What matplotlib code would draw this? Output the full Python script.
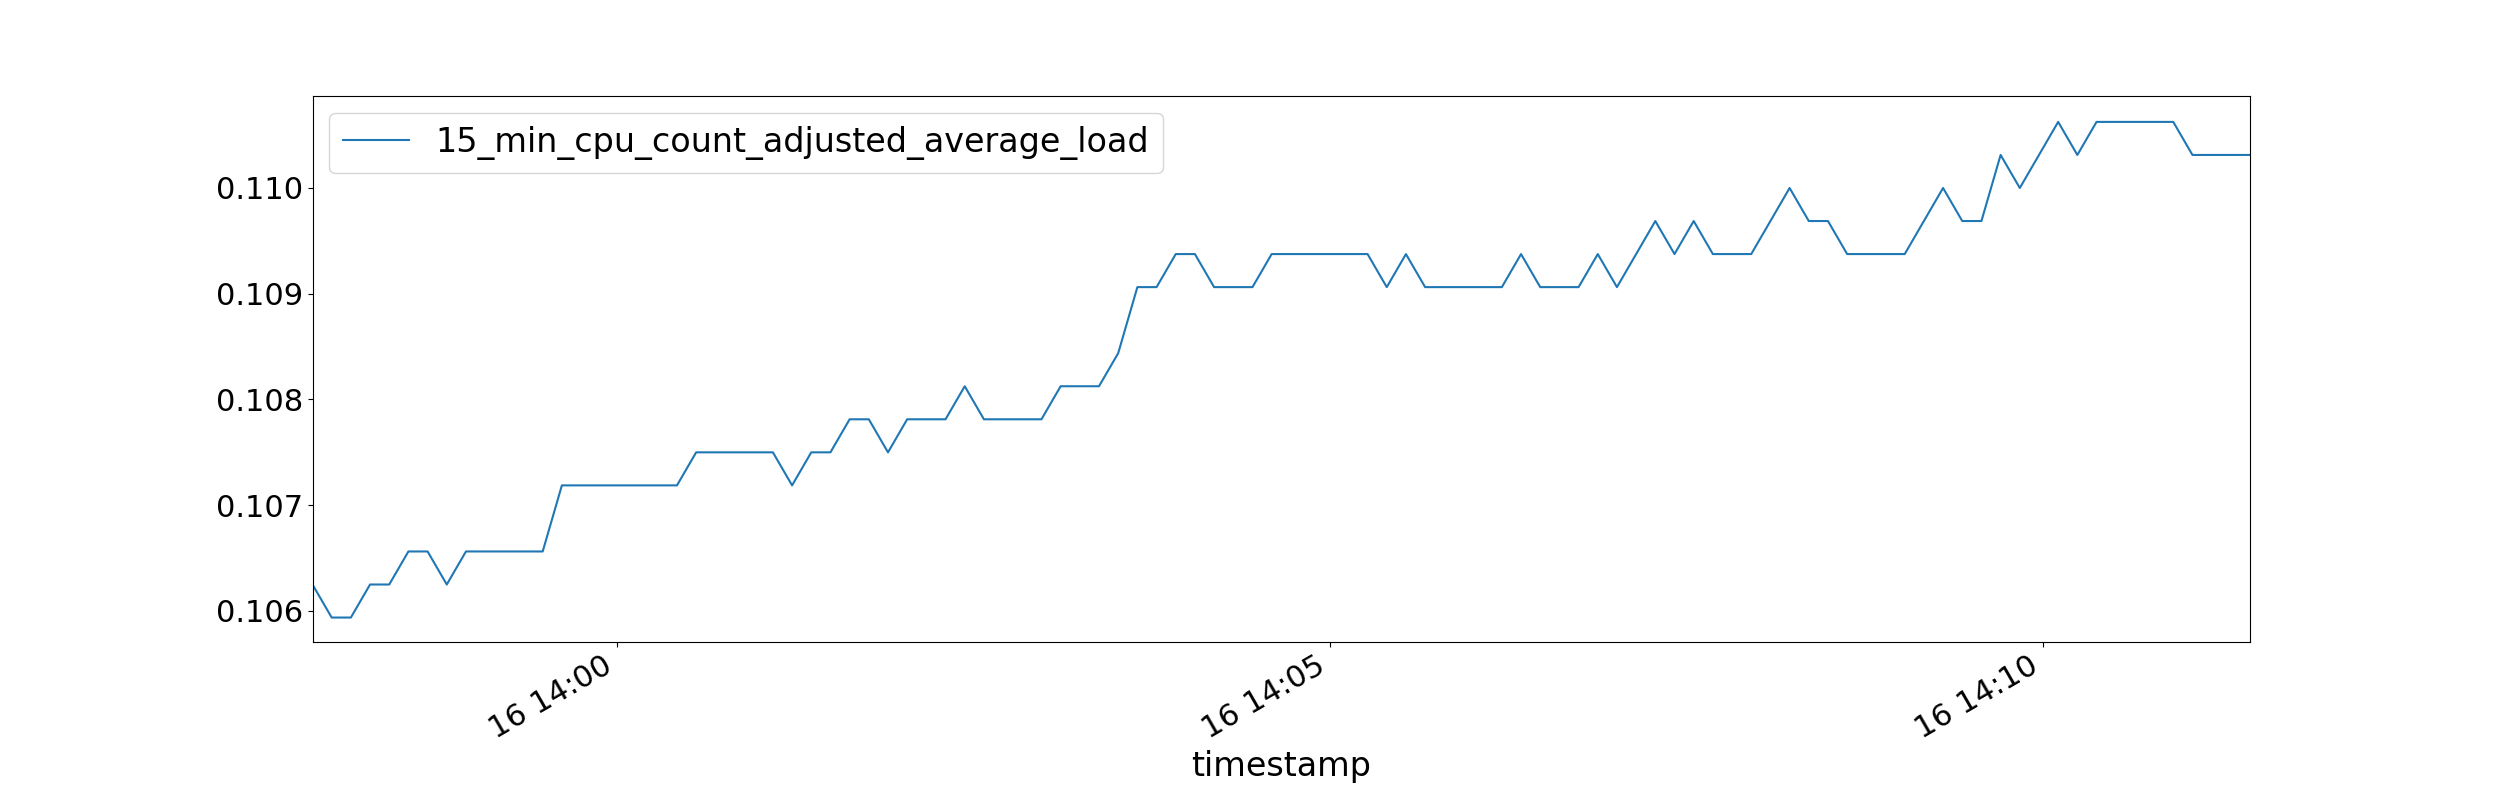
import matplotlib
matplotlib.use("Agg")
import matplotlib.pyplot as plt
import matplotlib.dates as mdates
import numpy as np
import pandas as pd

# raw load readings (load average sum), later divided by cpu count
cpu_count = 32
load_raw = [340, 339, 339, 340, 340, 341, 341, 340, 341, 341, 341, 341, 341,
            343, 343, 343, 343, 343, 343, 343, 344, 344, 344, 344, 344, 343,
            344, 344, 345, 345, 344, 345, 345, 345, 346, 345, 345, 345, 345,
            346, 346, 346, 347, 349, 349, 350, 350, 349, 349, 349, 350, 350,
            350, 350, 350, 350, 349, 350, 349, 349, 349, 349, 349, 350, 349,
            349, 349, 350, 349, 350, 351, 350, 351, 350, 350, 350, 351, 352,
            351, 351, 350, 350, 350, 350, 351, 352, 351, 351, 353, 352, 353,
            354, 353, 354, 354, 354, 354, 354, 353, 353, 353, 353]
start_time = "2024-01-16 13:57:52"
step_seconds = 8.07

timestamps = pd.date_range(start_time, periods=len(load_raw), freq=pd.Timedelta(seconds=step_seconds))
values = np.array(load_raw) / 100.0 / cpu_count

fig, ax = plt.subplots(figsize=(25, 8), dpi=100)
fig.subplots_adjust(left=0.125, right=0.9, top=0.88, bottom=0.198)
ax.plot(timestamps, values, color="#1f77b4", label="15_min_cpu_count_adjusted_average_load")
ax.set_xlim(timestamps[0], timestamps[-1])
ax.set_ylim(0.10571, 0.11087)

ax.xaxis.set_major_locator(mdates.MinuteLocator(byminute=[0, 5, 10]))
ax.xaxis.set_major_formatter(mdates.DateFormatter("%d %H:%M"))
ax.tick_params(labelsize=22)
for lbl in ax.get_xticklabels():
    lbl.set_rotation(30)
    lbl.set_ha("right")
ax.set_yticks([0.106, 0.107, 0.108, 0.109, 0.110])
ax.yaxis.set_major_formatter(matplotlib.ticker.FormatStrFormatter("%.3f"))
ax.set_xlabel("timestamp", fontsize=24)
ax.legend(fontsize=24, loc="upper left")

fig.savefig("out.png")
